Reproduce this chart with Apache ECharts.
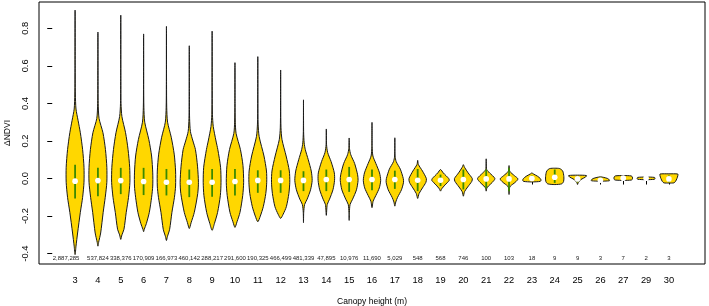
<!DOCTYPE html>
<html>
<head>
<meta charset="utf-8">
<script src="https://cdn.jsdelivr.net/npm/echarts@6/dist/echarts.min.js"></script>
<style>
html,body{margin:0;padding:0;background:#fff;}
#chart{width:709px;height:306px;}
</style>
</head>
<body>
<div id="chart"></div>
<script>
const categories = ['3','4','5','6','7','8','9','10','11','12','13','14','15','16','17','18','19','20','21','22','23','24','25','26','27','29','30'];
const counts = [2887285,537824,338376,170909,166973,460142,288217,291600,190325,466499,481339,47895,10976,11690,5029,548,568,746,100,103,18,9,9,3,7,2,3];
const medians = [-0.014,-0.011,-0.011,-0.016,-0.02,-0.02,-0.02,-0.016,-0.01,-0.01,-0.01,-0.005,-0.005,-0.005,-0.005,-0.009,-0.009,-0.005,-0.002,-0.002,0.0,0.007,-0.002,-0.009,0.002,0.002,-0.002];
const boxTop = [0.074,0.057,0.057,0.057,0.051,0.048,0.051,0.051,0.044,0.044,0.039,0.048,0.062,0.048,0.042,0.051,0.021,0.048,0.048,0.057,0.016,0.048,0.012,0.006,0.010,0.004,0.016];
const boxBottom = [-0.106,-0.094,-0.083,-0.088,-0.09,-0.099,-0.097,-0.09,-0.076,-0.076,-0.067,-0.067,-0.071,-0.062,-0.055,-0.067,-0.04,-0.058,-0.052,-0.067,-0.01,-0.023,-0.02,-0.012,-0.006,-0.003,-0.02];
// density profiles: [ΔNDVI value, half width (category units)], top to bottom
const profiles = [
 [[0.897,0],[0.6,0.004],[0.45,0.012],[0.37,0.04],[0.31,0.13],[0.244,0.23],[0.154,0.33],[0.06,0.39],[-0.02,0.39],[-0.10,0.33],[-0.18,0.23],[-0.29,0.11],[-0.36,0.04],[-0.405,0]],
 [[0.78,0],[0.55,0.004],[0.40,0.012],[0.32,0.05],[0.244,0.22],[0.154,0.33],[0.06,0.39],[-0.02,0.39],[-0.10,0.32],[-0.18,0.23],[-0.29,0.12],[-0.34,0.03],[-0.36,0]],
 [[0.87,0],[0.55,0.004],[0.40,0.012],[0.33,0.05],[0.244,0.21],[0.154,0.32],[0.06,0.39],[-0.02,0.40],[-0.10,0.34],[-0.18,0.24],[-0.27,0.14],[-0.30,0.05],[-0.324,0]],
 [[0.77,0],[0.50,0.004],[0.38,0.012],[0.30,0.05],[0.207,0.23],[0.12,0.35],[0.03,0.40],[-0.04,0.40],[-0.10,0.35],[-0.18,0.25],[-0.24,0.12],[-0.27,0.03],[-0.283,0]],
 [[0.81,0],[0.50,0.004],[0.38,0.012],[0.30,0.05],[0.22,0.21],[0.13,0.34],[0.04,0.40],[-0.04,0.40],[-0.10,0.35],[-0.18,0.24],[-0.27,0.14],[-0.31,0.04],[-0.33,0]],
 [[0.707,0],[0.45,0.004],[0.32,0.014],[0.25,0.05],[0.20,0.16],[0.154,0.27],[0.066,0.36],[-0.02,0.40],[-0.08,0.37],[-0.18,0.22],[-0.235,0.08],[-0.266,0]],
 [[0.785,0],[0.45,0.004],[0.34,0.014],[0.277,0.05],[0.20,0.17],[0.154,0.25],[0.06,0.37],[-0.02,0.39],[-0.09,0.36],[-0.18,0.24],[-0.24,0.10],[-0.276,0]],
 [[0.617,0],[0.40,0.004],[0.30,0.015],[0.24,0.05],[0.154,0.24],[0.07,0.35],[-0.02,0.38],[-0.09,0.34],[-0.18,0.22],[-0.23,0.09],[-0.26,0]],
 [[0.649,0],[0.40,0.004],[0.29,0.015],[0.223,0.06],[0.12,0.27],[0.04,0.38],[-0.02,0.39],[-0.08,0.35],[-0.15,0.24],[-0.20,0.11],[-0.23,0]],
 [[0.578,0],[0.38,0.004],[0.27,0.015],[0.207,0.06],[0.12,0.24],[0.04,0.38],[-0.02,0.40],[-0.08,0.36],[-0.15,0.25],[-0.19,0.11],[-0.212,0]],
 [[0.419,0],[0.25,0.006],[0.19,0.03],[0.154,0.08],[0.10,0.21],[0.04,0.34],[-0.01,0.38],[-0.06,0.31],[-0.11,0.16],[-0.138,0.05],[-0.18,0.01],[-0.235,0]],
 [[0.264,0],[0.18,0.01],[0.138,0.06],[0.09,0.21],[0.03,0.35],[-0.01,0.36],[-0.06,0.29],[-0.11,0.14],[-0.138,0.04],[-0.196,0]],
 [[0.216,0],[0.16,0.015],[0.127,0.07],[0.08,0.24],[0.02,0.37],[-0.01,0.39],[-0.06,0.32],[-0.11,0.15],[-0.138,0.04],[-0.18,0.01],[-0.223,0]],
 [[0.299,0],[0.17,0.006],[0.12,0.04],[0.08,0.17],[0.03,0.33],[-0.01,0.38],[-0.05,0.32],[-0.09,0.17],[-0.12,0.05],[-0.155,0]],
 [[0.217,0],[0.12,0.01],[0.09,0.06],[0.05,0.24],[0.0,0.37],[-0.02,0.38],[-0.06,0.29],[-0.10,0.12],[-0.125,0.04],[-0.147,0]],
 [[0.097,0],[0.075,0.03],[0.04,0.21],[0.0,0.38],[-0.02,0.36],[-0.05,0.21],[-0.08,0.06],[-0.106,0]],
 [[0.048,0],[0.03,0.12],[0.0,0.36],[-0.01,0.38],[-0.035,0.19],[-0.055,0.05],[-0.067,0]],
 [[0.074,0],[0.06,0.05],[0.03,0.21],[0.0,0.39],[-0.015,0.37],[-0.045,0.19],[-0.07,0.05],[-0.094,0]],
 [[0.105,0],[0.048,0.02],[0.03,0.15],[0.0,0.38],[-0.02,0.27],[-0.04,0.10],[-0.05,0.03],[-0.067,0]],
 [[0.069,0],[0.039,0.03],[0.015,0.24],[-0.002,0.39],[-0.02,0.27],[-0.04,0.06],[-0.05,0.02],[-0.085,0]],
 [[0.03,0],[0.025,0.06],[0.012,0.25],[0.0,0.37],[-0.008,0.40],[-0.015,0.37],[-0.018,0]],
 [[0.055,0],[0.053,0.22],[0.04,0.35],[0.01,0.40],[-0.015,0.39],[-0.028,0.31],[-0.032,0]],
 [[0.018,0],[0.016,0.39],[0.008,0.35],[-0.005,0.15],[-0.02,0.04],[-0.03,0]],
 [[0.009,0],[0.006,0.15],[0.0,0.32],[-0.008,0.40],[-0.012,0.39],[-0.014,0]],
 [[0.016,0],[0.014,0.35],[0.008,0.40],[-0.004,0.40],[-0.008,0.35],[-0.01,0]],
 [[0.008,0],[0.006,0.37],[0.0,0.39],[-0.004,0.37],[-0.006,0]],
 [[0.025,0],[0.024,0.39],[0.015,0.39],[0.0,0.35],[-0.015,0.29],[-0.023,0.22],[-0.024,0]]
];
const yTicks = [-0.4,-0.2,0.0,0.2,0.4,0.6,0.8];

const positions = categories.map((c, i) => i + 1);
const FONT = 'Liberation Sans, Arial, sans-serif';
const COUNT_Y = -0.424;

const chart = echarts.init(document.getElementById('chart'), null, {renderer: 'canvas'});

function renderViolin(params, api) {
  const i = params.dataIndex;
  const cx = api.coord([positions[i], 0])[0];
  const unit = api.size([1, 0])[0];
  const prof = profiles[i];
  const yp = v => api.coord([positions[i], v])[1];
  const right = prof.map(p => [cx + p[1] * unit, yp(p[0])]);
  const left = prof.slice().reverse().map(p => [cx - p[1] * unit, yp(p[0])]);
  const points = right.concat(left.slice(1, left.length - 1));
  return {
    type: 'group',
    children: [
      {type: 'polygon', shape: {points: points, smooth: 0.25},
       style: {fill: '#FFD700', stroke: '#1a1a1a', lineWidth: 1}},
      {type: 'line', shape: {x1: cx, y1: yp(boxTop[i]), x2: cx, y2: yp(boxBottom[i])},
       style: {stroke: '#3A8A00', lineWidth: 1.8}},
      {type: 'circle', shape: {cx: cx, cy: yp(medians[i]), r: 2.8},
       style: {fill: '#ffffff'}}
    ]
  };
}

function renderCount(params, api) {
  const i = params.dataIndex;
  const p = api.coord([positions[i], COUNT_Y]);
  const shift = i === 0 ? -9 : 0;
  return {
    type: 'text',
    x: p[0] + shift, y: p[1],
    style: {
      text: counts[i].toLocaleString('en-US'),
      fill: '#222', fontSize: 6, fontFamily: FONT,
      align: 'center', verticalAlign: 'middle'
    }
  };
}

const option = {
  animation: false,
  backgroundColor: '#fff',
  grid: {left: 39, right: 4, top: 2, bottom: 42, outerBoundsMode: 'none', containLabel: false,
    show: true, borderColor: '#000', borderWidth: 1, backgroundColor: 'transparent'},
  xAxis: {
    type: 'value', min: -0.58, max: 28.58,
    name: 'Canopy height (m)', nameLocation: 'middle', nameGap: 33,
    nameTextStyle: {fontSize: 8.5, fontFamily: FONT, color: '#000'},
    axisLine: {show: false},
    splitLine: {show: false},
    axisTick: {show: true, length: 6, lineStyle: {color: '#000'}, customValues: positions},
    axisLabel: {show: true, margin: 11.5, fontSize: 9.3, fontFamily: FONT, color: '#000',
      customValues: positions, formatter: v => categories[Math.round(v) - 1] || ''}
  },
  yAxis: {
    type: 'value', min: -0.455, max: 0.94,
    name: 'ΔNDVI', nameLocation: 'middle', nameGap: 19,
    nameTextStyle: {fontSize: 8.5, fontFamily: FONT, color: '#000'},
    axisLine: {show: false},
    splitLine: {show: false},
    axisTick: {show: true, length: 5, lineStyle: {color: '#000'}, customValues: yTicks},
    axisLabel: {show: true, rotate: 90, margin: 9.5, fontSize: 9.3, fontFamily: FONT, color: '#000',
      customValues: yTicks, formatter: v => v.toFixed(1)}
  },
  series: [
    {type: 'custom', renderItem: renderViolin, data: positions.map((p, i) => [p, medians[i]]), clip: false, z: 2},
    {type: 'custom', renderItem: renderCount, data: positions.map(p => [p, COUNT_Y]), clip: false, z: 3}
  ]
};
chart.setOption(option);
</script>
</body>
</html>
